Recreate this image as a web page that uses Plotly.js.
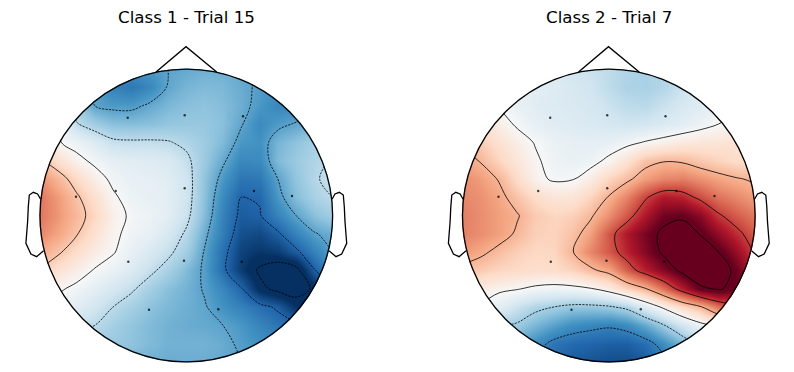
<!DOCTYPE html>
<html><head><meta charset="utf-8">
<script src="https://cdn.plot.ly/plotly-3.0.1.min.js"></script>
<style>html,body{margin:0;padding:0;background:#fff}#c{width:794px;height:372px}</style>
</head><body><div id="c"></div>
<script>
const titles = ["Class 1 - Trial 15", "Class 2 - Trial 7"];
const gridX = [-146.4,-128.1,-109.8,-91.5,-73.2,-54.9,-36.6,-18.3,0,18.3,36.6,54.9,73.2,91.5,109.8,128.1,146.4];
const gridY = [146.4,128.1,109.8,91.5,73.2,54.9,36.6,18.3,0,-18.3,-36.6,-54.9,-73.2,-91.5,-109.8,-128.1,-146.4];
const class1 = [
[-.3,-.35,-.4,-.45,-.52,-.53,-.5,-.46,-.44,-.42,-.42,-.44,-.47,-.5,-.5,-.5,-.5],
[-.2,-.25,-.35,-.47,-.58,-.62,-.56,-.45,-.4,-.38,-.39,-.43,-.48,-.52,-.53,-.5,-.5],
[-.05,-.12,-.3,-.46,-.49,-.49,-.44,-.39,-.36,-.35,-.37,-.42,-.50,-.56,-.55,-.48,-.42],
[.05,.0,-.22,-.3,-.36,-.37,-.36,-.34,-.33,-.33,-.36,-.45,-.55,-.49,-.45,-.40,-.36],
[.12,.01,-.05,-.12,-.2,-.21,-.21,-.22,-.26,-.31,-.38,-.5,-.52,-.4,-.35,-.29,-.24],
[.25,.15,.04,-.03,-.08,-.1,-.11,-.13,-.2,-.32,-.44,-.56,-.55,-.38,-.32,-.26,-.22],
[.4,.29,.17,.06,-.03,-.07,-.08,-.1,-.17,-.35,-.5,-.63,-.62,-.46,-.34,-.25,-.18],
[.46,.37,.25,.14,.02,-.05,-.07,-.09,-.17,-.36,-.55,-.69,-.68,-.5,-.37,-.28,-.23],
[.46,.38,.28,.18,.05,-.02,-.05,-.09,-.19,-.38,-.58,-.72,-.70,-.58,-.46,-.36,-.3],
[.42,.34,.24,.13,.03,-.04,-.07,-.14,-.25,-.43,-.6,-.76,-.78,-.71,-.58,-.47,-.42],
[.32,.25,.15,.07,.01,-.07,-.13,-.2,-.3,-.47,-.65,-.8,-.84,-.82,-.72,-.58,-.46],
[.22,.13,.06,-.01,-.06,-.12,-.2,-.28,-.38,-.48,-.66,-.82,-.94,-1.0,-.97,-.7,-.55],
[.1,.02,-.03,-.09,-.15,-.21,-.29,-.36,-.41,-.47,-.56,-.68,-.88,-.96,-.98,-.9,-.7],
[-.02,-.05,-.1,-.16,-.23,-.29,-.35,-.39,-.42,-.45,-.52,-.58,-.65,-.71,-.85,-.85,-.7],
[-.1,-.15,-.2,-.23,-.29,-.34,-.38,-.41,-.43,-.44,-.46,-.5,-.57,-.63,-.66,-.7,-.7],
[-.2,-.25,-.28,-.3,-.32,-.35,-.38,-.41,-.41,-.41,-.43,-.48,-.52,-.55,-.6,-.6,-.6],
[-.3,-.32,-.34,-.36,-.38,-.4,-.42,-.43,-.43,-.43,-.44,-.46,-.5,-.55,-.55,-.55,-.55]
];
const class2 = [
[-.05,-.05,-.08,-.1,-.12,-.14,-.17,-.2,-.24,-.28,-.3,-.27,-.22,-.15,-.1,-.05,0],
[.05,.02,-.02,-.06,-.1,-.12,-.15,-.18,-.24,-.29,-.3,-.27,-.2,-.12,-.06,-.02,.02],
[.08,.05,-.01,-.07,-.11,-.13,-.14,-.16,-.2,-.24,-.25,-.2,-.15,-.11,-.07,-.03,.02],
[.2,.15,.06,-.02,-.08,-.11,-.13,-.14,-.16,-.18,-.17,-.14,-.1,-.05,0,.05,.1],
[.3,.23,.14,.06,-.01,-.06,-.08,-.09,-.08,-.04,.01,.05,.09,.11,.12,.14,.15],
[.38,.31,.2,.11,.02,-.05,-.07,-.05,.03,.14,.27,.31,.30,.25,.21,.17,.15],
[.43,.39,.31,.17,.04,-.02,-.01,.07,.2,.29,.39,.45,.47,.42,.37,.33,.3],
[.45,.42,.36,.26,.17,.12,.12,.2,.33,.46,.62,.74,.71,.6,.5,.44,.38],
[.47,.43,.38,.33,.24,.2,.22,.3,.43,.58,.75,.9,.93,.84,.66,.56,.48],
[.46,.43,.38,.3,.22,.21,.27,.38,.58,.75,.88,1.0,1.05,.95,.82,.68,.56],
[.4,.35,.28,.22,.19,.2,.31,.45,.57,.71,.85,.99,1.08,1.08,.96,.8,.62],
[.28,.24,.2,.18,.16,.17,.21,.29,.37,.56,.72,.85,1.0,1.09,1.08,.9,.7],
[.1,.07,.03,.01,-.03,-.05,-.04,-.01,.07,.2,.31,.5,.72,.93,.98,.9,.8],
[0,-.02,-.1,-.2,-.28,-.32,-.36,-.36,-.34,-.28,-.12,.03,.18,.3,.5,.6,.6],
[-.1,-.2,-.3,-.34,-.42,-.5,-.57,-.6,-.62,-.58,-.47,-.33,-.17,-.05,.05,.1,.15],
[-.3,-.35,-.4,-.48,-.58,-.68,-.72,-.74,-.76,-.76,-.7,-.58,-.43,-.25,-.1,0,.05],
[-.4,-.45,-.5,-.55,-.65,-.72,-.78,-.8,-.82,-.82,-.78,-.68,-.55,-.35,-.2,-.1,0]
];
const sensorX = [-58.6,-1.6,56.7,-110.3,-70.6,-1.6,67.7,105.7,-58,-2.3,55.4,-37.3,32];
const sensorY = [97.8,100.2,99.2,18.8,24.5,27.2,24.5,19.5,-46.2,-45.2,-46.2,-94.2,-93.8];
const noseX = [-30.3,-0.3,30.4];
const noseY = [143.5,168.8,143.5];
const earX = [145.7,148.7,153,157,158,158.7,160.4,155.4,149.7,142.7];
const earY = [16.2,21.5,23.2,20.5,8.8,-6.2,-27.8,-38.5,-41.2,-35.2];
const rdbu = [[0,'#053061'],[.1,'#2166ac'],[.2,'#4393c3'],[.3,'#92c5de'],[.4,'#d1e5f0'],[.5,'#f7f7f7'],[.6,'#fddbc7'],[.7,'#f4a582'],[.8,'#d6604d'],[.9,'#b2182b'],[1,'#67001f']];
const headR = 146.3;

function panel(z, xa, ya, step, posEnd, negStart, lim){
  const base = {x:gridX, y:gridY, z:z, xaxis:xa, yaxis:ya, hoverinfo:'skip', showscale:false};
  return [
    Object.assign({}, base, {type:'heatmap', zsmooth:'best', colorscale:rdbu, zmin:-lim, zmax:lim}),
    Object.assign({}, base, {type:'contour', contours:{coloring:'none', start:0, end:posEnd, size:step, showlabels:false},
      line:{color:'#000', width:0.8, smoothing:1}, autocontour:false}),
    Object.assign({}, base, {type:'contour', contours:{coloring:'none', start:negStart, end:-step, size:step, showlabels:false},
      line:{color:'#000', width:0.8, dash:'2.2px,1.2px', smoothing:1}, autocontour:false}),
    {type:'scatter', mode:'markers', x:sensorX, y:sensorY, xaxis:xa, yaxis:ya, hoverinfo:'skip',
      marker:{size:2.4, color:'#000', opacity:0.75}}
  ];
}
function pathOf(xs, ys, sign){
  return 'M ' + xs.map((x,i)=>(sign*x)+' '+ys[i]).join(' L ');
}
function headShapes(xa, ya){
  const ln = {color:'#000', width:1.3};
  return [
    {type:'circle', xref:xa, yref:ya, x0:-185, x1:185, y0:-185, y1:185, line:{color:'#fff', width:76}, fillcolor:'rgba(0,0,0,0)'},
    {type:'circle', xref:xa, yref:ya, x0:-headR, x1:headR, y0:-headR, y1:headR, line:ln, fillcolor:'rgba(0,0,0,0)'},
    {type:'path', xref:xa, yref:ya, path:pathOf(noseX,noseY,1), line:ln},
    {type:'path', xref:xa, yref:ya, path:pathOf(earX,earY,1), line:ln},
    {type:'path', xref:xa, yref:ya, path:pathOf(earX,earY,-1), line:ln}
  ];
}
const axis = {visible:false, fixedrange:true, showgrid:false, zeroline:false};
const data = panel(class1,'x','y',0.23,0.23,-0.92,0.86).concat(panel(class2,'x2','y2',0.32,0.96,-0.64,0.92));
const layout = {
  width:794, height:372, margin:{l:0,r:0,t:0,b:0}, paper_bgcolor:'#fff', plot_bgcolor:'#fff', showlegend:false,
  xaxis:Object.assign({},axis,{domain:[0,0.5], range:[-186.3,210.7]}),
  yaxis:Object.assign({},axis,{domain:[0,1], range:[-156.5,215.5]}),
  xaxis2:Object.assign({},axis,{domain:[0.5,1], range:[-211.8,185.2]}),
  yaxis2:Object.assign({},axis,{domain:[0,1], range:[-156.5,215.5]}),
  shapes:headShapes('x','y').concat(headShapes('x2','y2')),
  annotations:[
    {xref:'paper',yref:'paper',x:186.3/794,y:1-18/372,text:titles[0],showarrow:false,xanchor:'center',yanchor:'middle',font:{family:'DejaVu Sans',size:16.67,color:'#000'}},
    {xref:'paper',yref:'paper',x:608.8/794,y:1-18/372,text:titles[1],showarrow:false,xanchor:'center',yanchor:'middle',font:{family:'DejaVu Sans',size:16.67,color:'#000'}}
  ]
};
Plotly.newPlot('c', data, layout, {displayModeBar:false, staticPlot:true});
</script></body></html>
